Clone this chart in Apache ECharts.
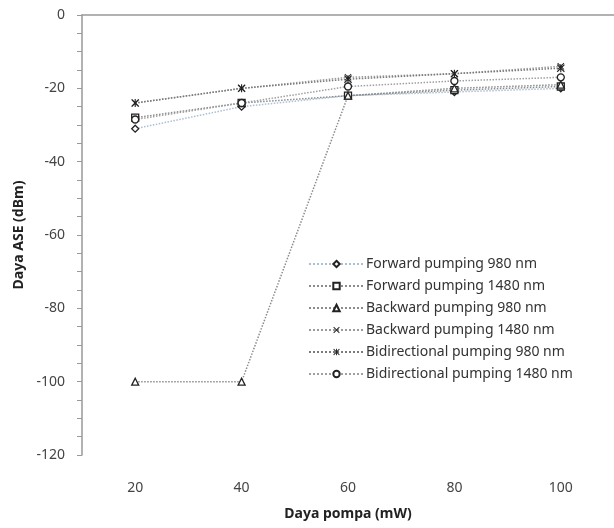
<!DOCTYPE html>
<html>
	<head>
		<meta charset="UTF-8">
		<title>Daya ASE</title>
		<style>
			html, body { margin: 0; padding: 0; background: #fff; }
			.box { width: 614px; height: 528px; }
		</style>
	</head>
	<body>
		<div class="box"></div>
		<script src="https://cdn.jsdelivr.net/npm/echarts@6/dist/echarts.min.js"></script>
		<script>
	var pompa = ['20', '40', '60', '80', '100'];
	var names = [
	    'Forward pumping 980 nm',
	    'Forward pumping 1480 nm',
	    'Backward pumping 980 nm',
	    'Backward pumping 1480 nm',
	    'Bidirectional pumping 980 nm',
	    'Bidirectional pumping 1480 nm'
	];
	var fwd980 = [-31, -25, -22, -21, -20];
	var fwd1480 = [-28, -24, -22, -20.5, -19.5];
	var bwd980 = [-100, -100, -22, -20, -19];
	var bwd1480 = [-24, -20, -17, -16, -14];
	var bid980 = [-24, -20, -17.5, -16, -14.5];
	var bid1480 = [-28.5, -24, -19.5, -18, -17];

	var pathX = 'path://M0,1 L1,0 L5,4 L9,0 L10,1 L6,5 L10,9 L9,10 L5,6 L1,10 L0,9 L4,5 Z';
	var pathStar = 'path://M0,1 L1,0 L5,4 L9,0 L10,1 L6,5 L10,9 L9,10 L5,6 L1,10 L0,9 L4,5 Z M4.3,0 L5.7,0 L5.7,10 L4.3,10 Z';

	var myChart = echarts.init(document.querySelector('.box'), null, {renderer: 'canvas'});

	function mkSeries(name, data, symbol, size, hollow, lineColor) {
	    return {
	        name: name,
	        type: 'line',
	        data: data,
	        symbol: symbol,
	        symbolSize: size,
	        showSymbol: true,
	        itemStyle: hollow ? {color: '#fff', borderColor: '#222', borderWidth: 1.3}
	                          : {color: '#222', borderWidth: 0},
	        lineStyle: {color: lineColor, type: 'dotted', width: 1.5},
	        z: 3
	    };
	}

	var option = {
	    backgroundColor: '#fff',
	    textStyle: {fontFamily: 'Noto Sans'},
	    grid: {left: 82, right: -3, top: 15, bottom: 73},
	    legend: {
	        orient: 'vertical',
	        left: 303,
	        top: 252,
	        itemWidth: 55,
	        itemHeight: 8,
	        itemGap: 8,
	        textStyle: {fontSize: 14, color: '#333', padding: [0, 0, 0, -3]},
	        data: names
	    },
	    xAxis: {
	        type: 'category',
	        data: pompa,
	        boundaryGap: true,
	        name: 'Daya pompa (mW)',
	        nameLocation: 'middle',
	        nameGap: 52,
	        nameTextStyle: {fontSize: 14, fontWeight: 'bold', color: '#222'},
	        axisLine: {lineStyle: {color: '#999', width: 1.5}},
	        axisTick: {show: false},
	        axisLabel: {fontSize: 14, color: '#444', margin: 26}
	    },
	    yAxis: {
	        type: 'value',
	        min: -120,
	        max: 0,
	        interval: 20,
	        name: 'Daya ASE (dBm)',
	        nameLocation: 'middle',
	        nameGap: 56,
	        nameTextStyle: {fontSize: 14, fontWeight: 'bold', color: '#222'},
	        axisLine: {show: true, lineStyle: {color: '#999', width: 1.5}},
	        axisTick: {show: true, length: 5, lineStyle: {color: '#999'}},
	        minorTick: {show: true, splitNumber: 4, length: 5, lineStyle: {color: '#999'}},
	        splitLine: {show: false},
	        axisLabel: {fontSize: 14, color: '#444', margin: 17}
	    },
	    series: [
	        mkSeries(names[0], fwd980, 'diamond', 7, true, '#a9bfd6'),
	        mkSeries(names[1], fwd1480, 'rect', 7, true, '#8c8c8c'),
	        mkSeries(names[2], bwd980, 'triangle', 7, true, '#8c8c8c'),
	        mkSeries(names[3], bwd1480, pathX, 7, false, '#9a9a9a'),
	        mkSeries(names[4], bid980, pathStar, 8, false, '#7a7a7a'),
	        mkSeries(names[5], bid1480, 'circle', 7, true, '#a0a0a0')
	    ]
	};
	myChart.setOption(option);
		</script>
	</body>
</html>
